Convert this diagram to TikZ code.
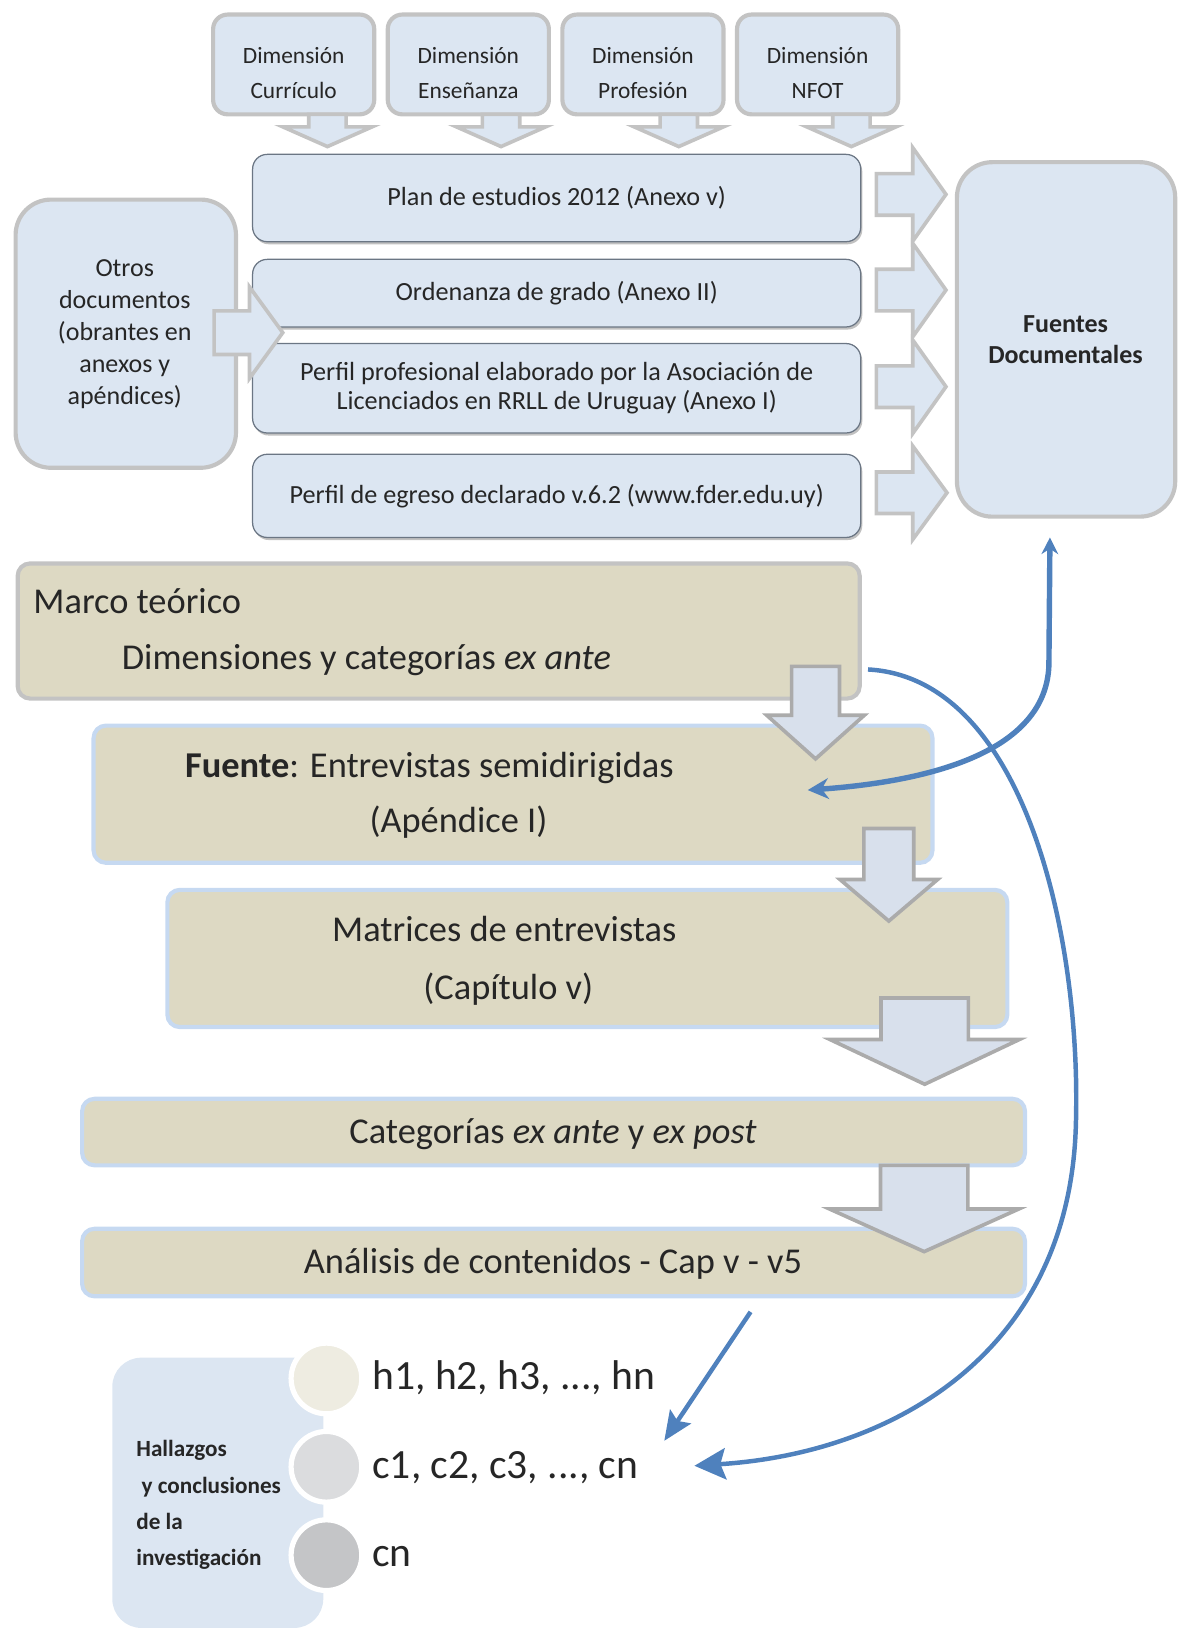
\documentclass[tikz,border=0pt]{standalone}
\usepackage{fontspec}
\setmainfont{Carlito}
\usetikzlibrary{shadows,arrows.meta}
\definecolor{lblue}{HTML}{DCE6F2}
\definecolor{bgray}{HTML}{C3C3C3}
\definecolor{tanfill}{HTML}{DDD9C3}
\definecolor{tanedge}{HTML}{C6D9F1}
\definecolor{arrgray}{HTML}{ABABAB}
\definecolor{arrfill}{HTML}{D8E0EC}
\definecolor{curveblue}{HTML}{4F81BD}
\definecolor{txt}{HTML}{262626}
\definecolor{docedge}{HTML}{6B7684}
\definecolor{circA}{HTML}{EEECE1}
\definecolor{circB}{HTML}{DBDCDE}
\definecolor{circC}{HTML}{C4C5C7}
\newcommand{\mydblock}[7]{%
  \draw[#1] ({#2-#6},#3) -- ({#2+#6},#3) -- ({#2+#6},#4) -- ({#2+#7},#4) -- (#2,#5) -- ({#2-#7},#4) -- ({#2-#6},#4) -- cycle;}
\newcommand{\myrblock}[7]{%
  \draw[#1] (#3,{#2-#6}) -- (#4,{#2-#6}) -- (#4,{#2-#7}) -- (#5,#2) -- (#4,{#2+#7}) -- (#4,{#2+#6}) -- (#3,{#2+#6}) -- cycle;}
\tikzset{
  dimbox/.style={draw=bgray, line width=4pt, fill=lblue, rounded corners=14pt,
    minimum width=155pt, minimum height=96pt, inner sep=0pt},
  dimtext/.style={text=txt, align=center, inner sep=0pt,
    font=\fontsize{22.5}{34}\selectfont},
  bigbox/.style={draw=bgray, line width=4pt, fill=lblue, rounded corners=34pt, inner sep=0pt},
  docbox/.style={draw=docedge, line width=1.2pt, fill=lblue, rounded corners=14pt,
    minimum width=585pt, inner sep=0pt, text=txt, align=center,
    font=\fontsize{25.2}{28}\selectfont,
    drop shadow={shadow xshift=1.5pt, shadow yshift=-2.5pt, opacity=0.35, fill=black!70}},
  midtext/.style={text=txt, align=center, inner sep=0pt},
  topar/.style={fill=lblue, draw=bgray, line width=3.5pt, line join=miter},
  lowar/.style={fill=arrfill, draw=arrgray, line width=3.5pt, line join=miter},
  tanbox/.style={draw=tanedge, line width=4pt, fill=tanfill, rounded corners=12pt, inner sep=0pt},
  bigtext/.style={text=txt, inner sep=0pt, font=\fontsize{35}{53}\selectfont},
  listtext/.style={text=txt, inner sep=0pt, anchor=base west, font=\fontsize{40}{48}\selectfont},
  dot/.style={circle, draw=white, line width=5pt, minimum size=68pt, inner sep=0pt},
  blueline/.style={draw=curveblue, line width=4.3pt},
}
\begin{document}
\begin{tikzpicture}[x=1pt,y=-1pt]
\useasboundingbox (0,0) rectangle (1142,1568);

% ---- top dimension boxes
\node[dimbox] (dcur) at (282.5,62) {};
\node[dimbox] (dens) at (450.5,62) {};
\node[dimbox] (dpro) at (618.5,62) {};
\node[dimbox] (dnfo) at (786.5,62) {};
\node[dimtext] (tcur) at (282.5,70) {Dimensión\\Currículo};
\node[dimtext] (tens) at (450.5,70) {Dimensión\\Enseñanza};
\node[dimtext] (tpro) at (618.5,70) {Dimensión\\Profesión};
\node[dimtext] (tnfo) at (786.5,70) {Dimensión\\NFOT};

\mydblock{topar}{315}{110}{122}{141}{18}{43}
\mydblock{topar}{482}{110}{122}{141}{18}{43}
\mydblock{topar}{653}{110}{122}{141}{18}{43}
\mydblock{topar}{819}{110}{122}{141}{18}{43}

% ---- documents
\node[docbox, minimum height=84pt] (plan) at (535.5,190.5) {Plan de estudios 2012 (Anexo v)};
\node[docbox, minimum height=65pt] (orde) at (535.5,282) {Ordenanza de grado (Anexo II)};
\node[docbox, minimum height=86pt] (pprof) at (535.5,373.5) {Perfil profesional elaborado por la Asociación de\\Licenciados en RRLL de Uruguay (Anexo I)};
\node[docbox, minimum height=80pt] (pegr) at (535.5,477) {Perfil de egreso declarado v.6.2 (www.fder.edu.uy)};

% ---- otros documentos
\node[bigbox, minimum width=212pt, minimum height=258pt] (otros) at (121,321) {};
\node[midtext, font=\fontsize{25}{30.8}\selectfont] (totros) at (120,321.5)
  {Otros\\documentos\\(obrantes en\\anexos y\\apéndices)};
\myrblock{topar}{320}{206}{240}{272}{21}{44}

% ---- fuentes documentales
\node[bigbox, minimum width=210pt, minimum height=341pt] (fuen) at (1025.5,326.5) {};
\node[midtext, font=\bfseries\fontsize{25}{30}\selectfont] (tfuen) at (1025,327) {Fuentes\\Documentales};
\myrblock{topar}{187}{843}{878}{910}{20}{45}
\myrblock{topar}{279}{843}{878}{910}{20}{45}
\myrblock{topar}{372}{843}{878}{910}{20}{45}
\myrblock{topar}{474}{843}{878}{911}{20}{45}

% ---- marco teorico
\node[tanbox, draw=bgray, minimum width=810pt, minimum height=130pt] (marco) at (422,607) {};
\node[bigtext, anchor=base west] (tmarco1) at (32,590) {Marco teórico};
\node[bigtext, anchor=base west] (tmarco2) at (117,644) {Dimensiones y categorías \textit{ex ante}};

% ---- fuente entrevistas
\node[tanbox, minimum width=807pt, minimum height=132pt] (fte) at (493.5,764) {};
\node[bigtext, anchor=base] (tfte1) at (413,748) {\textbf{Fuente}: Entrevistas semidirigidas};
\node[bigtext, anchor=base] (tfte2) at (441,801) {(Apéndice I)};
\mydblock{lowar}{784.5}{641}{688}{730}{23}{47}

% ---- matrices
\node[tanbox, minimum width=808pt, minimum height=132pt] (matr) at (565,922) {};
\node[bigtext, anchor=base] (tmatr1) at (485,906) {Matrices de entrevistas};
\node[bigtext, anchor=base] (tmatr2) at (489,961) {(Capítulo v)};
\mydblock{lowar}{855}{797}{846}{886}{24}{47}

% ---- categorias
\node[tanbox, minimum width=907pt, minimum height=64pt] (cate) at (532.5,1089) {};
\node[bigtext, anchor=base] (tcate) at (532,1100) {Categorías \textit{ex ante} y \textit{ex post}};
\mydblock{lowar}{889.5}{960}{1000}{1043}{42}{91}

% ---- analisis
\node[tanbox, minimum width=907pt, minimum height=65pt] (anal) at (532.5,1214.5) {};
\node[bigtext, anchor=base] (tanal) at (532,1225) {Análisis de contenidos - Cap v - v5};
\mydblock{lowar}{889}{1121}{1163}{1204}{42}{91}

% ---- hallazgos
\fill[lblue, rounded corners=28pt] (108,1306) rectangle (311,1566);
\node[dot, fill=circA] (ca) at (314,1326) {};
\node[dot, fill=circB] (cb) at (314,1411) {};
\node[dot, fill=circC] (cc) at (314,1496) {};
\begin{scope}[every node/.style={text=txt, inner sep=0pt, anchor=base west, font=\bfseries\fontsize{22.3}{35}\selectfont}]
\node (h1) at (131,1401) {Hallazgos};
\node (h2) at (136,1437) {y conclusiones};
\node (h3) at (131,1471) {de la};
\node (h4) at (131,1506) {investigación};
\end{scope}
\node[listtext] (lh) at (358,1337) {h1, h2, h3, ..., hn};
\node[listtext] (lc) at (358,1422) {c1, c2, c3, ..., cn};
\node[listtext] (ln) at (358,1507) {cn};

% ---- connectors
\coordinate (fb) at (1010,517);
\coordinate (fi) at (777,760);
\draw[blueline, line width=5.2pt, {Stealth[length=16pt,width=16pt]}-{Stealth[length=20pt,width=20pt]}]
  (fb) -- (1009,640) .. controls (1006,725) and (890,752) .. (fi);
\coordinate (ms) at (835,644);
\coordinate (mm) at (1035,1080);
\coordinate (ce) at (668,1410);
\draw[blueline, -{Stealth[length=30pt,width=30pt,inset=5pt]}]
  (ms) .. controls (985,652) and (1040,900) .. (mm) .. controls (1030,1300) and (860,1398) .. (ce);
\coordinate (as) at (722,1262);
\coordinate (ae) at (639,1386);
\draw[blueline, -{Stealth[length=28pt,width=24pt,inset=5pt]}] (as) -- (ae);
\end{tikzpicture}
\end{document}
